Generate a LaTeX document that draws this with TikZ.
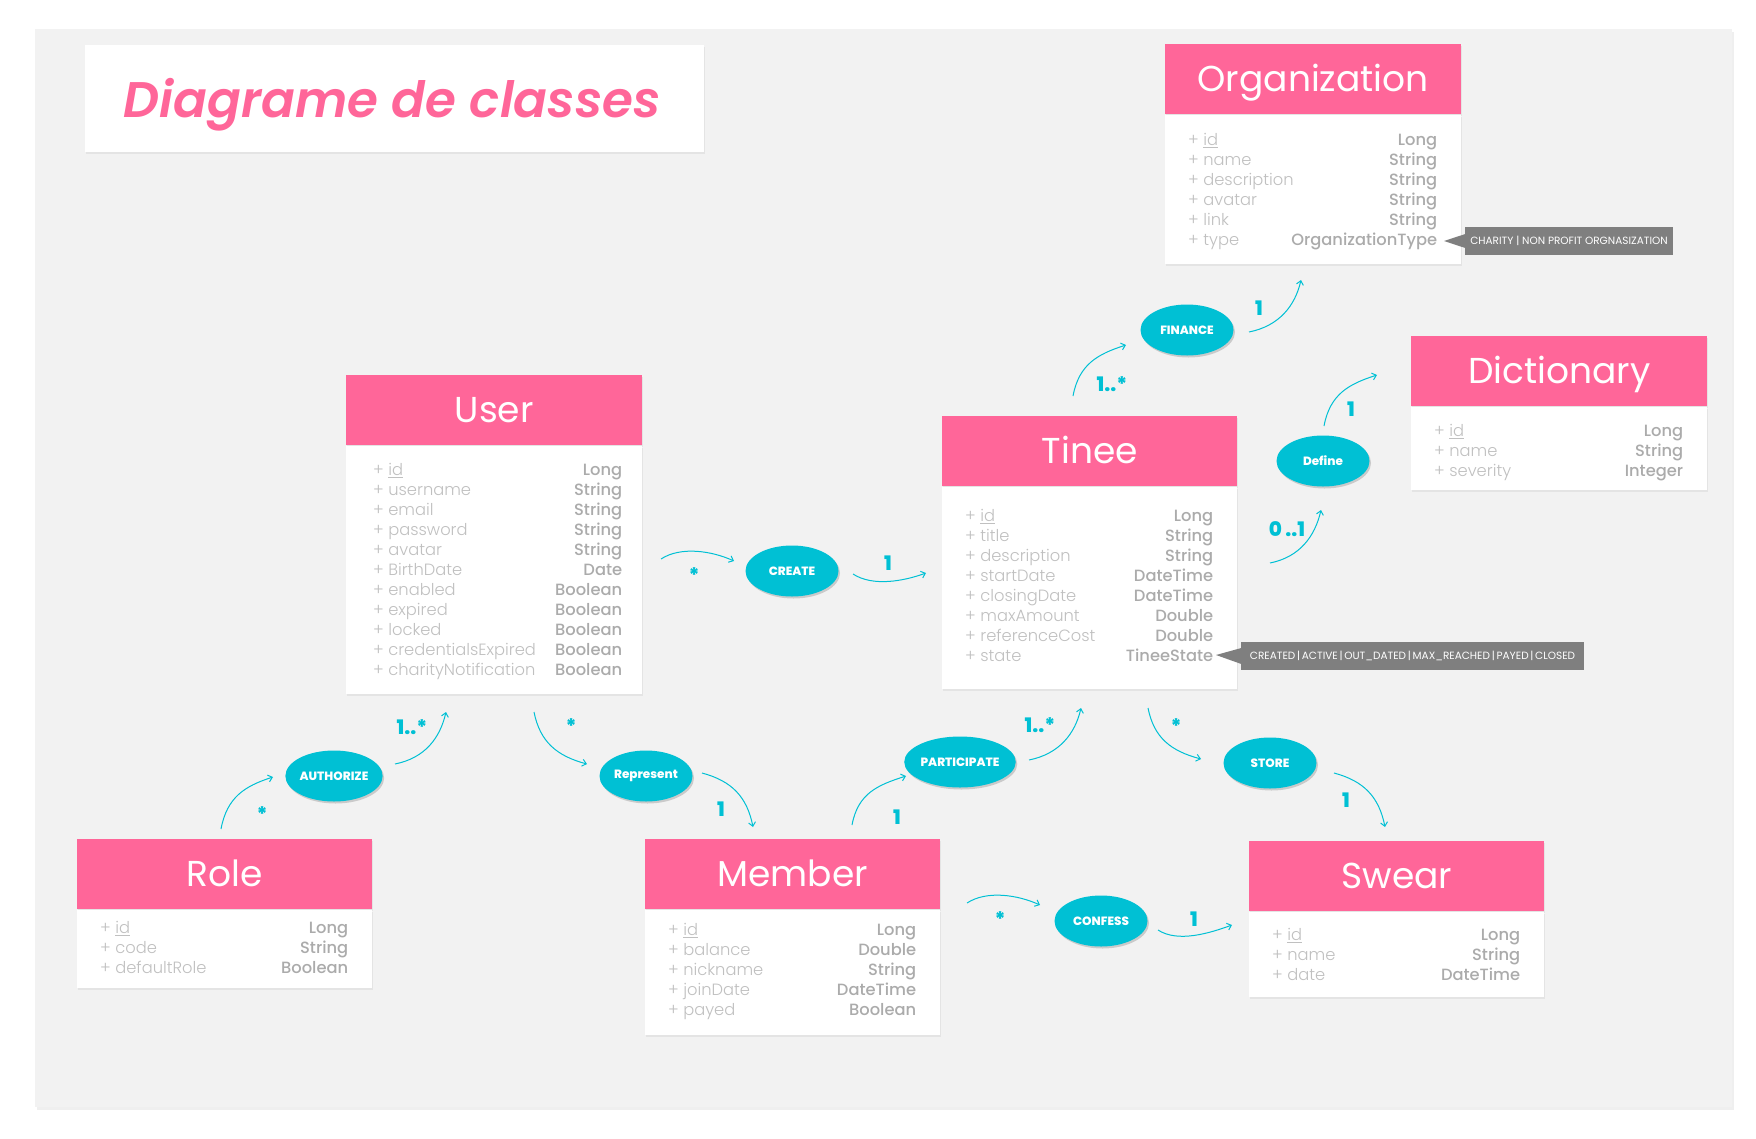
\documentclass[tikz,border=0pt]{standalone}
\usepackage{fontspec}
\setmainfont{Poppins}
\newfontfamily\plight{Poppins Light}
\newfontfamily\pmed{Poppins Medium}
\newfontfamily\pbold{Poppins ExtraBold}
\newfontfamily\ptitle{Poppins SemiBold Italic}
\usetikzlibrary{shapes.geometric,shadows,calc,arrows.meta}
\definecolor{pinkh}{HTML}{FF6699}
\definecolor{cyanE}{HTML}{00C0D4}
\definecolor{namegrey}{HTML}{C0C0C0}
\definecolor{typegrey}{HTML}{ABABAB}
\definecolor{callgrey}{HTML}{7F7F7F}
\definecolor{panelgrey}{HTML}{F2F2F2}

\def\lpad{23}
\def\rpad{24}
% id, title, left x, top y, width, body height, first baseline offset, rows
\newcommand\umlclass[8]{%
  \node[classhead, minimum width=#5pt, anchor=north west] (#1) at (#3,#4) {#2};
  \node[classbody, minimum width=#5pt, minimum height=#6pt, anchor=north] (#1-body) at (#1.south) {};
  \foreach \n/\t [count=\i from 0] in {#8} {
    \node[attrname, anchor=base west] (#1-n\i) at ($(#1.south west)+(\lpad,#7+20*\i)$) {+ \n};
    \node[attrtype, anchor=base east] (#1-t\i) at ($(#1.south east)+(-\rpad,#7+20*\i)$) {\t};
  }%
}

\begin{document}
\begin{tikzpicture}[x=1pt,y=-1pt,
  classhead/.style={fill=pinkh, text=white, font=\fontsize{36}{40}\selectfont,
    minimum height=70pt, inner sep=0pt, text height=24pt, text depth=0pt,
    drop shadow={opacity=0.12, shadow xshift=1pt, shadow yshift=-2pt}},
  classbody/.style={fill=white, inner sep=0pt,
    drop shadow={opacity=0.12, shadow xshift=1pt, shadow yshift=-2pt}},
  attrname/.style={text=namegrey, font=\plight\fontsize{16.3}{18}\selectfont, inner sep=0pt},
  attrtype/.style={text=typegrey, font=\pmed\fontsize{16.3}{18}\selectfont, inner sep=0pt},
  rel/.style={ellipse, fill=cyanE, text=white, minimum width=93pt, minimum height=51pt,
    inner sep=0pt, font=\pbold\fontsize{12}{14}\selectfont,
    drop shadow={opacity=0.35, shadow xshift=1.5pt, shadow yshift=-2pt}},
  mult/.style={text=cyanE, font=\pbold\fontsize{20}{22}\selectfont, inner sep=0pt, anchor=base},
  conn/.style={draw=cyanE, line width=1pt, -{Straight Barb[length=4pt,width=7pt]}},
  callout/.style={fill=callgrey, text=white, font=\fontsize{10.5}{12}\selectfont,
    minimum height=28pt, inner sep=0pt}
]
\useasboundingbox (0,0) rectangle (1756,1138);
\fill[white] (0,0) rectangle (1756,1138);
\path[fill=panelgrey, drop shadow={opacity=0.12, shadow xshift=2pt, shadow yshift=-3pt}]
  (35,29) rectangle (1732,1107);

% title
\node[fill=white, minimum width=619pt, minimum height=107pt, inner sep=0pt,
  drop shadow={opacity=0.12, shadow xshift=1pt, shadow yshift=-2pt}] (titlebox) at (394.5,98.5) {};
\node[text=pinkh, font=\ptitle\fontsize{50}{56}\selectfont, inner sep=0pt, anchor=base] (title) at (392,117) {Diagrame de classes};

% classes
\def\lpad{27}\def\rpad{20}
\umlclass{user}{User}{346}{375}{296}{248}{30}{{\underline{id}}/Long, username/String, email/String, password/String, avatar/String, BirthDate/Date, enabled/Boolean, expired/Boolean, locked/Boolean, credentialsExpired/Boolean, charityNotification/Boolean}
\def\lpad{23}\def\rpad{24}
\umlclass{tinee}{Tinee}{942}{416}{295}{202}{35}{{\underline{id}}/Long, title/String, description/String, startDate/DateTime, closingDate/DateTime, maxAmount/Double, referenceCost/Double, state/TineeState}
\umlclass{org}{Organization}{1165}{44}{296}{149}{31}{{\underline{id}}/Long, name/String, description/String, avatar/String, link/String, type/OrganizationType}
\umlclass{dict}{Dictionary}{1411}{336}{296}{83}{30}{{\underline{id}}/Long, name/String, severity/Integer}
\umlclass{role}{Role}{77}{839}{295}{78}{24}{{\underline{id}}/Long, code/String, defaultRole/Boolean}
\umlclass{member}{Member}{645}{839}{295}{125}{26}{{\underline{id}}/Long, balance/Double, nickname/String, joinDate/DateTime, payed/Boolean}
\umlclass{swear}{Swear}{1249}{841}{295}{85}{29}{{\underline{id}}/Long, name/String, date/DateTime}

% callouts
\node[callout, minimum width=208pt] (orgnote) at (1569,241) {CHARITY | NON PROFIT ORGNASIZATION};
\fill[callgrey] ($(orgnote.west)+(0.5,-7)$) -- (1444,241) -- ($(orgnote.west)+(0.5,7)$) -- cycle;
\node[callout, minimum width=343pt] (tineenote) at (1412.5,656) {CREATED\,|\,ACTIVE\,|\,OUT\_DATED\,|\,MAX\_REACHED\,|\,PAYED\,|\,CLOSED};
\fill[callgrey] ($(tineenote.west)+(0.5,-8)$) -- (1216,655) -- ($(tineenote.west)+(0.5,8)$) -- cycle;

% relation ellipses
\node[rel] (create) at (792,571) {CREATE};
\node[rel] (authorize) at (334,776) {AUTHORIZE};
\node[rel] (represent) at (646,776) {Represent};
\node[rel] (participate) at (960,762) {PARTICIPATE};
\node[rel] (store) at (1270,763) {STORE};
\node[rel] (confess) at (1101,921) {CONFESS};
\node[rel] (finance) at (1187,330) {FINANCE};
\node[rel] (define) at (1323,461) {Define};

% connector end points
\coordinate (cra) at (661,559); \coordinate (crb) at (734,561);
\coordinate (crc) at (853,574); \coordinate (crd) at (926,573);
\coordinate (aua) at (221,829); \coordinate (aub) at (273,777);
\coordinate (auc) at (395,764); \coordinate (aud) at (446,712);
\coordinate (rea) at (534,712); \coordinate (reb) at (587,764);
\coordinate (rec) at (702,773); \coordinate (red) at (753,827);
\coordinate (paa) at (852,825); \coordinate (pab) at (906,776);
\coordinate (pac) at (1029,760); \coordinate (pad) at (1081,708);
\coordinate (sta) at (1148,708); \coordinate (stb) at (1201,759);
\coordinate (stc) at (1334,773); \coordinate (std) at (1385,827);
\coordinate (coa) at (967,903); \coordinate (cob) at (1040,905);
\coordinate (coc) at (1158,930); \coordinate (cod) at (1232,925);
\coordinate (fia) at (1073,396); \coordinate (fib) at (1126,345);
\coordinate (fic) at (1249,332); \coordinate (fid) at (1301,280);
\coordinate (dea) at (1270,563); \coordinate (deb) at (1321,510);
\coordinate (dec) at (1324,426); \coordinate (ded) at (1377,375);

% connectors
\draw[conn] (cra) .. controls +(20,-13) and +(-22,-10) .. (crb);
\draw[conn] (crc) .. controls +(20,13) and +(-22,8) .. (crd);
\draw[conn] (aua) .. controls +(6,-32) and +(-28,9) .. (aub);
\draw[conn] (auc) .. controls +(30,-6) and +(-6,26) .. (aud);
\draw[conn] (rea) .. controls +(6,30) and +(-30,-8) .. (reb);
\draw[conn] (rec) .. controls +(30,8) and +(-6,-30) .. (red);
\draw[conn] (paa) .. controls +(6,-32) and +(-28,9) .. (pab);
\draw[conn] (pac) .. controls +(30,-6) and +(-6,26) .. (pad);
\draw[conn] (sta) .. controls +(6,30) and +(-30,-8) .. (stb);
\draw[conn] (stc) .. controls +(30,8) and +(-6,-30) .. (std);
\draw[conn] (coa) .. controls +(20,-13) and +(-22,-10) .. (cob);
\draw[conn] (coc) .. controls +(20,13) and +(-22,8) .. (cod);
\draw[conn] (fia) .. controls +(6,-32) and +(-28,9) .. (fib);
\draw[conn] (fic) .. controls +(30,-6) and +(-6,26) .. (fid);
\draw[conn] (dea) .. controls +(30,-6) and +(-6,26) .. (deb);
\draw[conn] (dec) .. controls +(6,-32) and +(-28,9) .. (ded);

% multiplicities
\node[mult] (m1) at (694,582) {*};
\node[mult] (m2) at (888,570) {1};
\node[mult] (m3) at (262,821) {*};
\node[mult] (m4) at (412,734) {1..*};
\node[mult] (m5) at (571,733) {*};
\node[mult] (m6) at (721,816) {1};
\node[mult] (m7) at (897,824) {1};
\node[mult] (m8) at (1040,732) {1..*};
\node[mult] (m9) at (1176,733) {*};
\node[mult] (m10) at (1346,807) {1};
\node[mult] (m11) at (1000,926) {*};
\node[mult] (m12) at (1194,926) {1};
\node[mult] (m13) at (1112,391) {1..*};
\node[mult] (m14) at (1259,315) {1};
\node[mult] (m15) at (1287,536) {0\,..1};
\node[mult] (m16) at (1351,416) {1};
\end{tikzpicture}
\end{document}
